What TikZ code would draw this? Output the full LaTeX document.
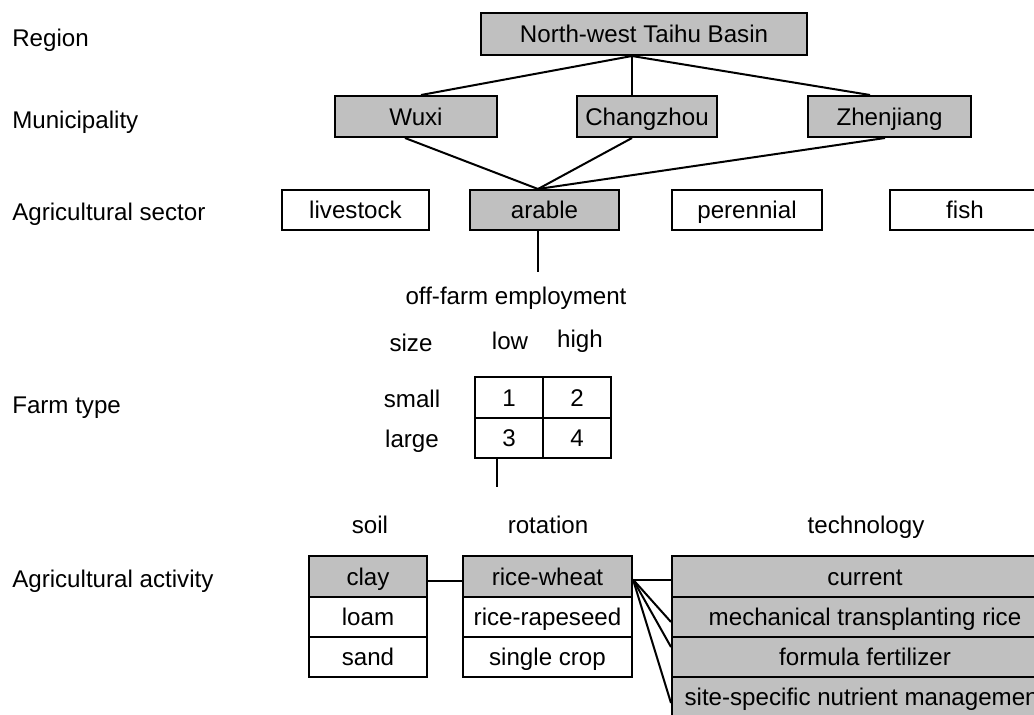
\documentclass[tikz,border=0pt]{standalone}
\usepackage{fontspec}
\setmainfont{Liberation Sans}
\usetikzlibrary{calc}
\definecolor{boxgray}{RGB}{192,192,192}
\begin{document}
\begin{tikzpicture}[x=0.75pt,y=-0.75pt,
  every node/.style={font=\fontsize{18.1}{21}\selectfont, inner sep=0pt, text height=13pt, text depth=0pt},
  bw/.style={minimum width=#1*0.75pt},
  bh/.style={minimum height=#1*0.75pt},
  wbox/.style={draw=black, line width=1.5pt, fill=white},
  gbox/.style={draw=black, line width=1.5pt, fill=boxgray},
  conn/.style={draw=black, line width=1.5pt},
  lbl/.style={anchor=west}
]
\useasboundingbox (0,0) rectangle (1034,714);
\begin{scope}
\clip (0,0) rectangle (1034,714);
% level labels
\node[lbl] (lregion) at (12,37.5) {Region};
\node[lbl] (lmuni) at (12,120) {Municipality};
\node[lbl] (lsector) at (12,211.5) {Agricultural sector};
\node[lbl] (lfarm) at (12,405) {Farm type};
\node[lbl] (lact) at (12,579) {Agricultural activity};

% region and municipalities
\node[gbox, bw=326, bh=42] (basin) at (644,34) {North-west Taihu Basin};
\node[gbox, bw=162, bh=41] (wuxi) at (416,116.5) {Wuxi};
\node[gbox, bw=140, bh=41] (changzhou) at (647,116.5) {Changzhou};
\node[gbox, bw=163, bh=41] (zhenjiang) at (889.5,116.5) {Zhenjiang};

% sectors
\node[wbox, bw=147, bh=40] (livestock) at (355.5,210) {livestock};
\node[gbox, bw=149, bh=40] (arable) at (544.5,210) {arable};
\node[wbox, bw=150, bh=40] (perennial) at (747,210) {perennial};
\node[wbox, bw=150, bh=40] (fish) at (965,210) {fish};

% farm type
\node (offfarm) at (516,295.5) {off-farm employment};
\node (size) at (411,343) {size};
\node (low) at (510,340.5) {low};
\node (high) at (580,339) {high};
\node (small) at (412,399) {small};
\node (large) at (412,439) {large};
\node[wbox, bw=68, bh=40.5] (c1) at (509,397.5) {1};
\node[wbox, bw=68, bh=40.5] (c2) at (577,397.5) {2};
\node[wbox, bw=68, bh=40.5] (c3) at (509,438) {3};
\node[wbox, bw=68, bh=40.5] (c4) at (577,438) {4};

% activity headers
\node (soil) at (370,525) {soil};
\node (rotation) at (548,525) {rotation};
\node (technology) at (866,525) {technology};

% soil column
\node[gbox, bw=118, bh=40.5] (clay) at (368,576.5) {clay};
\node[wbox, bw=118, bh=40.5] (loam) at (368,617) {loam};
\node[wbox, bw=118, bh=40.5] (sand) at (368,657) {sand};

% rotation column
\node[gbox, bw=169, bh=40.5] (ricewheat) at (547.5,576.5) {rice-wheat};
\node[wbox, bw=169, bh=40.5] (ricerape) at (547.5,617) {rice-rapeseed};
\node[wbox, bw=169, bh=40.5] (single) at (547.5,657) {single crop};

% technology column
\node[gbox, bw=386, bh=40.5] (current) at (865,576.5) {current};
\node[gbox, bw=386, bh=40.5] (mech) at (865,617) {mechanical transplanting rice};
\node[gbox, bw=386, bh=40.5] (formula) at (865,657) {formula fertilizer};
\node[gbox, bw=386, bh=40.5] (site) at (865,697) {site-specific nutrient management};

% connectors: region -> municipalities
\coordinate (btap) at ($(basin.south)+(-12,0)$);
\draw[conn] (btap) -- ($(wuxi.north)+(5,0)$);
\draw[conn] (btap) -- (btap |- changzhou.north);
\draw[conn] (btap) -- ($(zhenjiang.north)+(-19.5,0)$);

% municipalities -> arable
\coordinate (atap) at ($(arable.north)+(-6.5,0)$);
\draw[conn] ($(wuxi.south)+(-11,0)$) -- (atap);
\draw[conn] ($(changzhou.south)+(-15,0)$) -- (atap);
\draw[conn] ($(zhenjiang.south)+(-4.5,0)$) -- (atap);

% arable -> farm type
\coordinate (arableend) at (538,272);
\draw[conn] (arableend |- arable.south) -- (arableend);

% farm type -> activity
\coordinate (gridend) at (497,487);
\draw[conn] (gridend |- c3.south) -- (gridend);

% activity connectors
\draw[conn] ($(clay.east)+(0,4)$) -- ($(ricewheat.west)+(0,4)$);
\coordinate (rtap) at ($(ricewheat.east)+(0,3)$);
\draw[conn] (rtap) -- ($(current.west)+(0,3)$);
\draw[conn] (rtap) -- ($(mech.west)+(0,5)$);
\draw[conn] (rtap) -- ($(formula.west)+(0,-10)$);
\draw[conn] (rtap) -- ($(site.west)+(0,6)$);
\end{scope}
\end{tikzpicture}
\end{document}
